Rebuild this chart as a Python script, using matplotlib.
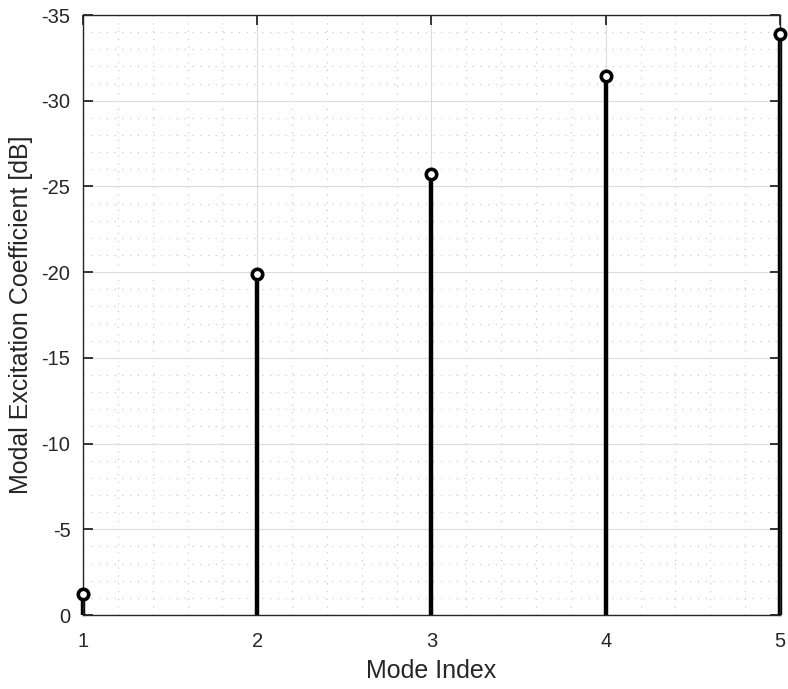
import matplotlib
matplotlib.use("Agg")
import matplotlib.pyplot as plt
from matplotlib.ticker import MultipleLocator

plt.rcParams['font.family'] = ['Liberation Sans', 'DejaVu Sans']
plt.rcParams['axes.unicode_minus'] = False

mode_index = [1, 2, 3, 4, 5]
excitation_db = [-1.2, -19.9, -25.7, -31.45, -33.9]
x_ticks = [1, 2, 3, 4, 5]
y_ticks = [0, -5, -10, -15, -20, -25, -30, -35]

fig = plt.figure(figsize=(7.88, 6.89), dpi=100)
ax = fig.add_axes([0.1053, 0.1074, 0.8845, 0.8708])

dark = '#262626'

markerline, stemlines, baseline = ax.stem(mode_index, excitation_db, basefmt=' ')
stemlines.set_color('black')
stemlines.set_linewidth(3.2)
stemlines.set_clip_on(False)
markerline.set_marker('o')
markerline.set_markersize(7.5)
markerline.set_markerfacecolor('white')
markerline.set_markeredgecolor('black')
markerline.set_markeredgewidth(2.6)
markerline.set_clip_on(False)
markerline.set_zorder(5)

ax.set_xlim(1, 5)
ax.set_ylim(0, -35)
ax.set_xticks(x_ticks)
ax.set_yticks(y_ticks)
ax.xaxis.set_minor_locator(MultipleLocator(0.2))
ax.yaxis.set_minor_locator(MultipleLocator(1))

ax.grid(True, which='major', color='#dcdcdc', linewidth=0.8, linestyle='-')
ax.grid(True, which='minor', color='#c4c4c4', linewidth=0.8, linestyle=(0, (1, 6)))
ax.set_axisbelow(True)

ax.tick_params(which='major', direction='in', length=7, width=1.3, colors=dark,
               labelsize=14.5, top=True, right=True)
ax.tick_params(which='minor', length=0, top=True, right=True)
ax.tick_params(axis='x', pad=12)
ax.tick_params(axis='y', pad=9)
for s in ax.spines.values():
    s.set_color(dark)
    s.set_linewidth(1.0)

ax.set_xlabel('Mode Index', fontsize=18, color=dark, labelpad=6)
ax.set_ylabel('Modal Excitation Coefficient [dB]', fontsize=18, color=dark, labelpad=6)

fig.savefig('out.png', dpi=100)
